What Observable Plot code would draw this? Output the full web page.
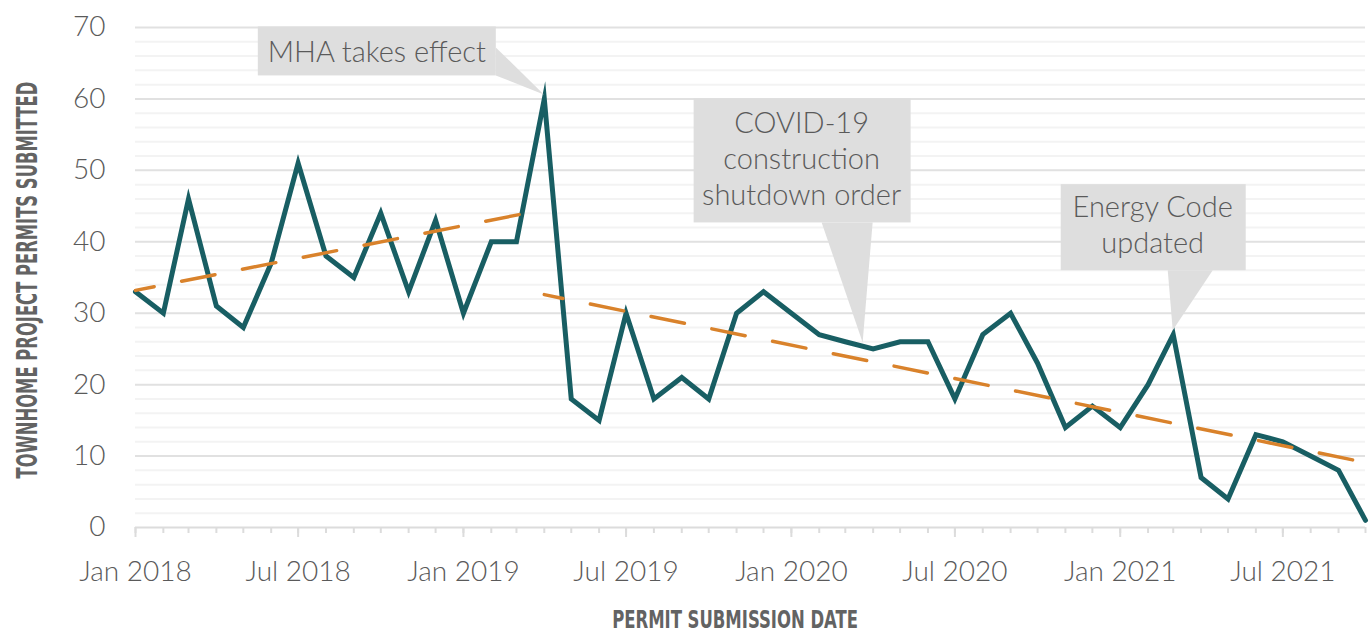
<!DOCTYPE html>
<html>
<head>
<meta charset="utf-8">
<script src="https://cdn.jsdelivr.net/npm/d3@7"></script>
<script src="https://cdn.jsdelivr.net/npm/@observablehq/plot@0.6"></script>
<style>
  html, body { margin: 0; padding: 0; background: #fff; }
  #chart { width: 1370px; height: 635px; overflow: hidden; }
</style>
</head>
<body>
<div id="chart"></div>
<script>
// ---- Data ----
const months = [
  "2018-01","2018-02","2018-03","2018-04","2018-05","2018-06","2018-07","2018-08","2018-09","2018-10","2018-11","2018-12",
  "2019-01","2019-02","2019-03","2019-04","2019-05","2019-06","2019-07","2019-08","2019-09","2019-10","2019-11","2019-12",
  "2020-01","2020-02","2020-03","2020-04","2020-05","2020-06","2020-07","2020-08","2020-09","2020-10","2020-11","2020-12",
  "2021-01","2021-02","2021-03","2021-04","2021-05","2021-06","2021-07","2021-08","2021-09","2021-10"
];
const permits = [
  33,30,46,31,28,37,51,38,35,44,33,43,
  30,40,40,60,18,15,30,18,21,18,30,33,
  30,27,26,25,26,26,18,27,30,23,14,17,
  14,20,27,7,4,13,12,10,8,1
];
// trend line endpoints (two segments: before / after MHA)
const trendPre  = [{month: "2018-01", value: 33.2}, {month: "2019-04", value: 44.5}];
const trendPost = [{month: "2019-04", value: 32.6}, {month: "2021-10", value: 9.1}];
const xLabelMonths = ["2018-01","2018-07","2019-01","2019-07","2020-01","2020-07","2021-01","2021-07"];
const yTicks = [0,10,20,30,40,50,60,70];
const yMinor = [2,4,6,8,12,14,16,18,22,24,26,28,32,34,36,38,42,44,46,48,52,54,56,58,62,64,66,68];
const yTitle = "TOWNHOME PROJECT PERMITS SUBMITTED";
const xTitle = "PERMIT SUBMISSION DATE";
const annotations = [
  {lines: ["MHA takes effect"], month: "2019-04", value: 60},
  {lines: ["COVID-19", "construction", "shutdown order"], month: "2020-04", value: 25},
  {lines: ["Energy Code", "updated"], month: "2021-03", value: 27}
];

// ---- Build ----
const parse = d3.utcParse("%Y-%m");
const series = months.map((m, i) => ({date: parse(m), value: permits[i]}));
const tPre = trendPre.map(d => ({date: parse(d.month), value: d.value}));
const tPost = trendPost.map(d => ({date: parse(d.month), value: d.value}));
const monthDates = months.map(parse);
const labelDates = xLabelMonths.map(parse);

const TEAL = "#185e63";
const ORANGE = "#d9822b";
const GRID = "#e1e1e1";
const GRID_MINOR = "#f3f3f3";
const TEXT = "#5a5a5a";
const FONT = "Lato, 'Open Sans', sans-serif";
const NARROW = "'Liberation Sans Narrow', 'DejaVu Sans Condensed', 'Roboto', sans-serif";

const plot = Plot.plot({
  width: 1370,
  height: 635,
  marginLeft: 135,
  marginRight: 5,
  marginTop: 27,
  marginBottom: 108,
  style: {fontFamily: FONT, fontWeight: 300, background: "#fff"},
  x: {type: "utc", domain: [monthDates[0], monthDates[monthDates.length - 1]]},
  y: {domain: [0, 70]},
  marks: [
    Plot.ruleY(yMinor, {stroke: GRID_MINOR, strokeWidth: 2}),
    Plot.ruleY(yTicks.filter(d => d > 0), {stroke: GRID, strokeWidth: 2}),
    Plot.ruleY([0], {stroke: "#dcdcdc", strokeWidth: 2}),
    Plot.axisX({ticks: monthDates, tickSize: 6, tickFormat: () => "", stroke: "#dcdcdc", strokeWidth: 2, label: null}),
    Plot.axisX({ticks: labelDates, tickSize: 10, tickPadding: 24, tickFormat: d3.utcFormat("%b %Y"),
                stroke: "#dcdcdc", strokeWidth: 2, fill: TEXT, fontSize: 28, label: null}),
    Plot.axisY({ticks: yTicks, tickSize: 0, tickPadding: 30, fill: TEXT, fontSize: 28, label: null}),
    Plot.line(series, {x: "date", y: "value", stroke: TEAL, strokeWidth: 5, strokeLinejoin: "miter", strokeMiterlimit: 10}),
    Plot.line(tPre, {x: "date", y: "value", stroke: ORANGE, strokeWidth: 3.5, strokeDasharray: "34,28", strokeDashoffset: 15}),
    Plot.line(tPost, {x: "date", y: "value", stroke: ORANGE, strokeWidth: 3.5, strokeDasharray: "34,28", strokeDashoffset: 15})
  ]
});

document.getElementById("chart").appendChild(plot);

// ---- Axis titles and callouts (positioned through the plot's scales) ----
const svg = d3.select(plot);
const xs = plot.scale("x"), ys = plot.scale("y");
const yTop = ys.apply(70), yBot = ys.apply(0);

// condensed titles: squeeze along the text direction to the reference width
function condensed(text, size, target, baseTransform) {
  const t = svg.append("text")
    .attr("text-anchor", "middle")
    .attr("font-family", NARROW)
    .attr("font-weight", "bold")
    .attr("font-size", size)
    .attr("fill", "#636363")
    .text(text);
  const w = t.node().getComputedTextLength() || target;
  const k = Math.min(1, target / w);
  t.attr("transform", `${baseTransform} scale(${k},1)`);
  return t;
}
condensed(yTitle, 29, 397, `translate(37,${(yTop + yBot) / 2 + 3}) rotate(-90)`);
condensed(xTitle, 24, 246, `translate(735,628)`);

// layout of each callout relative to its data point (pixels)
const layouts = [
  {tip: [0, -4], box: [-286, -48, -72, -23], wedge: [[-48, -51], [-48, -23]], text: [-167, -36], lh: 36},
  {tip: [-10, -6], box: [-179, 38, -250, -126], wedge: [[-51, -126], [0, -126]], text: [-71, -215], lh: 36},
  {tip: [0, -4], box: [-112, 73, -150, -64], wedge: [[-5, -64], [40, -64]], text: [-20, -117], lh: 36}
];
const g = svg.append("g");
annotations.forEach((a, i) => {
  const L = layouts[i];
  const px = xs.apply(parse(a.month)), py = ys.apply(a.value);
  const tip = [px + L.tip[0], py + L.tip[1]];
  g.append("polygon")
    .attr("points", [[px + L.wedge[0][0], py + L.wedge[0][1]], [px + L.wedge[1][0], py + L.wedge[1][1]], tip].map(p => p.join(",")).join(" "))
    .attr("fill", "#dedede");
  g.append("rect")
    .attr("x", px + L.box[0]).attr("y", py + L.box[2])
    .attr("width", L.box[1] - L.box[0]).attr("height", L.box[3] - L.box[2])
    .attr("fill", "#dedede");
  a.lines.forEach((line, j) => {
    g.append("text")
      .attr("x", px + L.text[0]).attr("y", py + L.text[1] + j * L.lh)
      .attr("text-anchor", "middle")
      .attr("font-family", FONT)
      .attr("font-size", 29)
      .attr("fill", TEXT)
      .text(line);
  });
});
</script>
</body>
</html>
